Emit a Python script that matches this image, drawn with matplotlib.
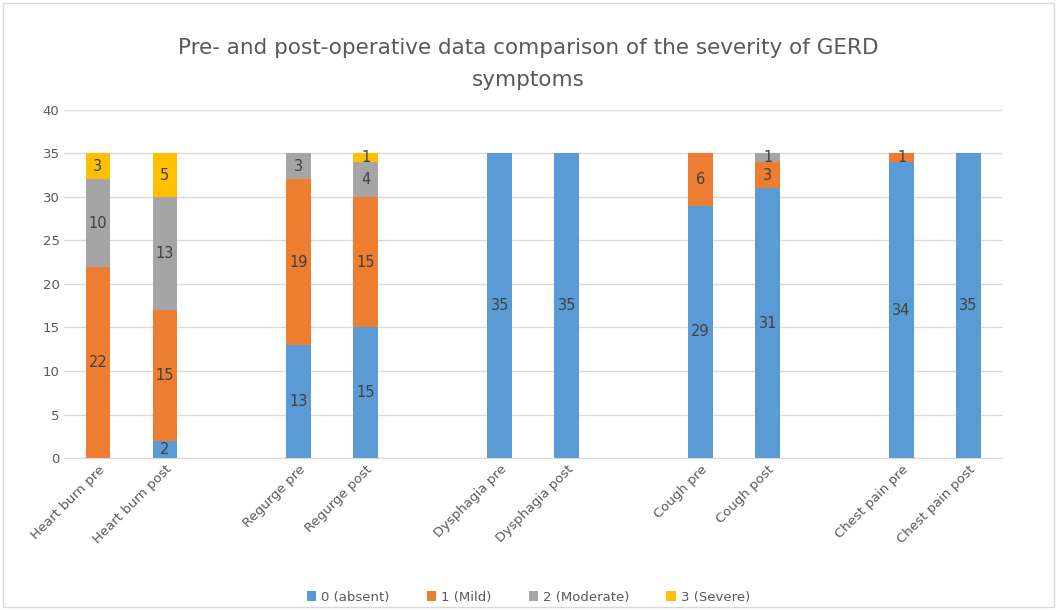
import numpy as np
import matplotlib.pyplot as plt

# categories (blank slots separate the symptom groups, as in the original sheet)
categories = ['Heart burn pre', 'Heart burn post', '',
              'Regurge pre', 'Regurge post', '',
              'Dysphagia pre', 'Dysphagia post', '',
              'Cough pre', 'Cough post', '',
              'Chest pain pre', 'Chest pain post']

absent = [0, 2, 0, 13, 15, 0, 35, 35, 0, 29, 31, 0, 34, 35]
mild = [22, 15, 0, 19, 15, 0, 0, 0, 0, 6, 3, 0, 1, 0]
moderate = [10, 13, 0, 3, 4, 0, 0, 0, 0, 0, 1, 0, 0, 0]
severe = [3, 5, 0, 0, 1, 0, 0, 0, 0, 0, 0, 0, 0, 0]

series = [('0 (absent)', absent, '#5B9BD5'),
          ('1 (Mild)', mild, '#ED7D31'),
          ('2 (Moderate)', moderate, '#A5A5A5'),
          ('3 (Severe)', severe, '#FFC000')]

fig = plt.figure(figsize=(10.57, 6.10), dpi=100)
ax = fig.add_axes([0.061, 0.249, 0.887, 0.571])

x = np.arange(len(categories))
bottom = np.zeros(len(categories))
for name, vals, color in series:
    vals = np.array(vals, dtype=float)
    bars = ax.bar(x, vals, 0.37, bottom=bottom, color=color, label=name, zorder=2)
    for b, v, y0 in zip(bars, vals, bottom):
        if v > 0:
            ax.text(b.get_x() + b.get_width() / 2, y0 + v / 2, f'{int(v)}',
                    ha='center', va='center', fontsize=10.5, color='#404040')
    bottom += vals

ax.set_xlim(-0.5, len(categories) - 0.5)
ax.set_ylim(0, 40)
ax.set_yticks(range(0, 41, 5))
ax.yaxis.grid(True, color='#D9D9D9', linewidth=1, zorder=0)
ax.set_axisbelow(True)
for s in ['top', 'right', 'left']:
    ax.spines[s].set_visible(False)
ax.spines['bottom'].set_color('#D9D9D9')
ax.tick_params(axis='both', length=0, colors='#595959', labelsize=9.5)
ax.set_xticks(x)
ax.set_xticklabels(categories, rotation=45, ha='right', rotation_mode='anchor')

fig.text(0.5, 1 - 38 / 610, 'Pre- and post-operative data comparison of the severity of GERD\nsymptoms',
         ha='center', va='top', fontsize=15.5, color='#595959', linespacing=1.75)

fig.legend(loc='center', bbox_to_anchor=(0.5, 1 - 597 / 610), ncol=4, frameon=False,
           fontsize=9.5, handlelength=0.7, handleheight=0.7, columnspacing=2.8,
           handletextpad=0.4, labelcolor='#595959')

fig.patches.append(plt.Rectangle((0.003, 0.005), 0.994, 0.99, transform=fig.transFigure,
                                 fill=False, edgecolor='#D9D9D9', linewidth=1))

fig.savefig('out.png', dpi=100)
